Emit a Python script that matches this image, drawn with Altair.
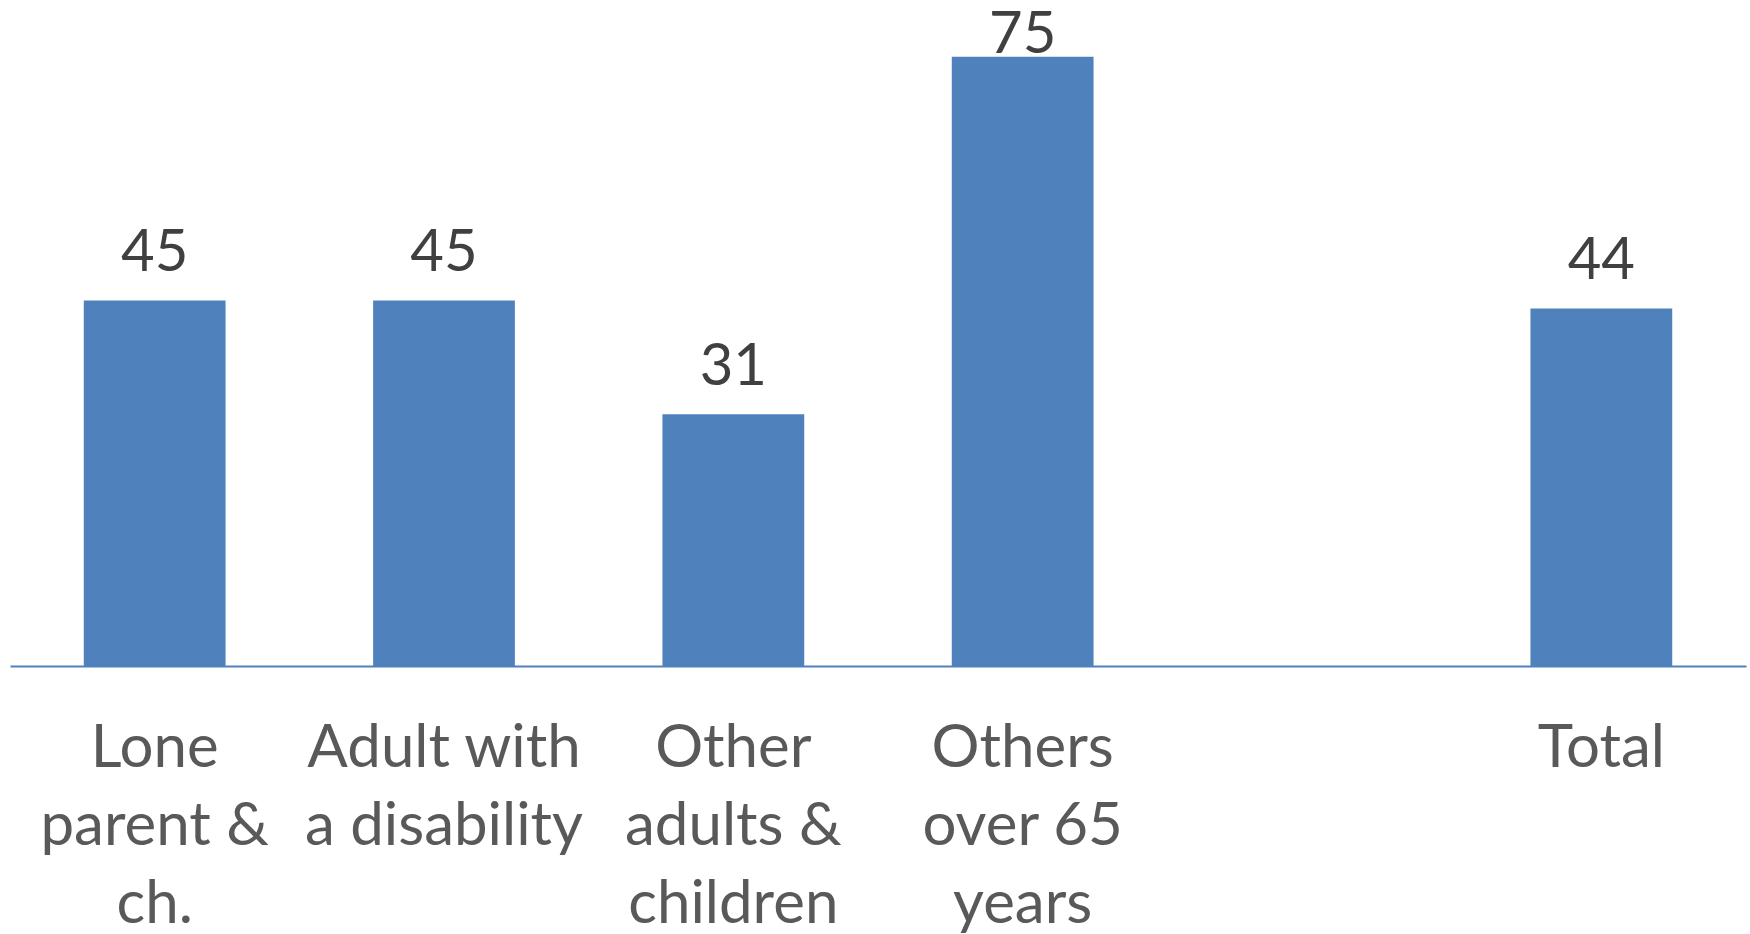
import altair as alt
import pandas as pd

# Category labels (line breaks mark the wrapped axis labels); the blank slot
# leaves an empty band before the total.
categories = [
    "Lone\nparent &\nch.",
    "Adult with\na disability",
    "Other\nadults &\nchildren",
    "Others\nover 65\nyears",
    " ",
    "Total",
]
values = [45, 45, 31, 75, None, 44]

df = pd.DataFrame({"category": categories, "value": values})

BAR_COLOR = "#4F81BD"
FONT = "Lato"

x = alt.X(
    "category:N",
    sort=categories,
    scale=alt.Scale(domain=categories, paddingInner=0.51, paddingOuter=0.255),
    axis=alt.Axis(
        title=None,
        ticks=False,
        domain=True,
        domainColor=BAR_COLOR,
        domainWidth=2,
        labelAngle=0,
        labelFont=FONT,
        labelFontSize=60,
        labelColor="#595959",
        labelPadding=53,
        labelLineHeight=78,
        labelLimit=0,
        labelExpr="split(datum.value, '\\n')",
    ),
)
y = alt.Y(
    "value:Q",
    scale=alt.Scale(domain=[0, 80], nice=False),
    axis=None,
)

base = alt.Chart(df)

bars = base.mark_bar(color=BAR_COLOR).encode(x=x, y=y)

# Value labels sit above each bar, held inside the top edge for the tallest bar.
labels = (
    base.transform_filter("isValid(datum.value)")
    .transform_calculate(label_pos="min(datum.value + 3.6, 75.5)")
    .mark_text(
        font=FONT,
        fontSize=58,
        color="#404040",
        baseline="alphabetic",
        align="center",
    )
    .encode(
        x=alt.X("category:N", sort=categories, scale=alt.Scale(domain=categories)),
        y=alt.Y("label_pos:Q", scale=alt.Scale(domain=[0, 80], nice=False), axis=None),
        text=alt.Text("value:Q", format=".0f"),
    )
)

chart = (
    alt.layer(bars, labels)
    .properties(
        width=1736,
        height=650,
        padding={"left": 10, "top": 16, "right": 4, "bottom": 268},
        autosize=alt.AutoSizeParams(type="none"),
        background="white",
    )
    .configure_view(stroke=None)
)

chart.save("out.html", embed_options={"renderer": "svg", "actions": False})
